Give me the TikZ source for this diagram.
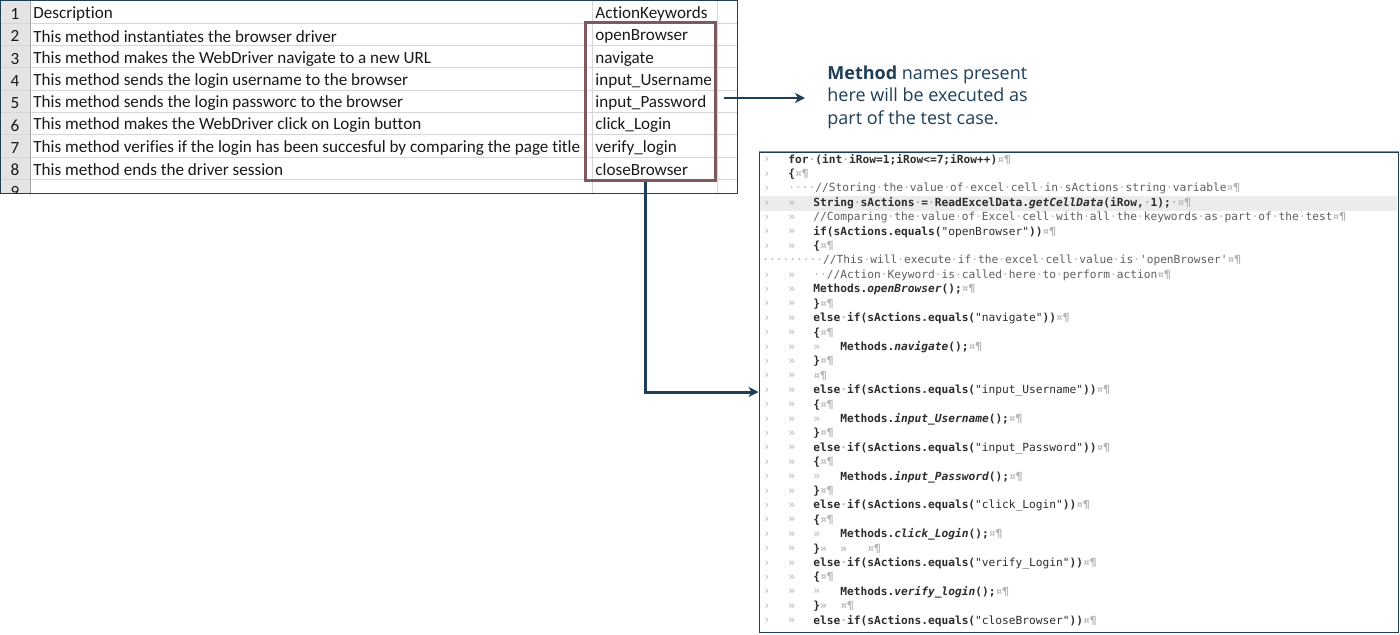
\documentclass[tikz,border=0pt]{standalone}
\usepackage{fontspec}
\setmainfont{Carlito}[Ligatures=NoCommon]
\setmonofont{DejaVu Sans Mono}
\newfontfamily\notefont{Open Sans}
\usepackage{xcolor}
\definecolor{navy}{RGB}{31,62,88}
\definecolor{keyred}{RGB}{127,88,96}
\definecolor{gridgray}{RGB}{214,214,214}
\definecolor{headgray}{RGB}{228,228,228}
\definecolor{markgray}{RGB}{180,180,180}
\definecolor{codeink}{RGB}{45,45,45}
\definecolor{cmtink}{RGB}{95,95,95}
\definecolor{lineband}{RGB}{236,236,236}
\usepackage{tikz}
\usetikzlibrary{arrows.meta,positioning}

% visible blanks, tabs and line ends of the editor
\catcode`\·=\active \def·{{\color{markgray}\char"B7}}
\catcode`\»=\active \def»{{\color{markgray}\char"BB}}
\newcommand\eol{{\color{markgray}\char"A4\char"B6}}
\newcommand\cmt[1]{{\mdseries\color{cmtink}#1}}
\newcommand\str[1]{{\mdseries #1}}
\newcommand\mth[1]{\textit{#1}}
\newcommand\codeln[4]{\node[code] (#1) at (#2,{160+(#3-1)*14.4}) {#4};}

\tikzset{
  cell/.style={anchor=west, inner sep=0pt, text=black!90, font=\fontsize{8.55}{10}\selectfont},
  rownum/.style={inner sep=0pt, text=black!90, font=\fontsize{8.55}{10}\selectfont},
  gridline/.style={gridgray, line width=0.5pt},
  keybox/.style={draw=keyred, line width=1.5pt, minimum width=65pt, minimum height=79pt},
  note/.style={anchor=west, align=left, inner sep=0pt, text=navy,
    font=\notefont\fontsize{9}{11.25}\selectfont},
  codepanel/.style={draw=navy, line width=0.5pt, fill=white, minimum width=319.5pt, minimum height=240pt},
  code/.style={anchor=west, inner sep=0pt, text=codeink, font=\ttfamily\bfseries\fontsize{5.6}{6}\selectfont},
  editmark/.style={anchor=west, inner sep=0pt, text=markgray, font=\ttfamily\fontsize{5.6}{6}\selectfont},
  arrowline/.style={navy, line width=1pt, -{Stealth[length=5pt, width=5pt, inset=1.5pt]}}
}

\begin{document}
\begin{tikzpicture}[x=0.5pt, y=-0.5pt]
  \useasboundingbox (0,0) rectangle (1400,634);

  % Spreadsheet
  \fill[headgray] (0,0) rectangle (30,193);
  \foreach \k in {1,...,8}
    \draw[gridline] (0,{1+\k*22.3}) -- (737,{1+\k*22.3});
  \draw[gridline] (592,0) -- (592,193);
  \draw[gridline] (717,0) -- (717,193);
  \draw[black!35, line width=0.5pt] (30,0) -- (30,193);
  \draw[navy, line width=0.5pt] (0.5,0.5) rectangle (737,193);

  \foreach \i/\d in {1/Description,
      2/This method instantiates the browser driver,
      3/This method makes the WebDriver navigate to a new URL,
      4/This method sends the login username to the browser,
      5/This method sends the login passworc to the browser,
      6/This method makes the WebDriver click on Login button,
      7/This method verifies if the login has been succesful by comparing the page title,
      8/This method ends the driver session} {
    \node[rownum] (n\i) at (15,{14+(\i-1)*22.3}) {\i};
    \node[cell] (d\i) at (33,{14+(\i-1)*22.3}) {\d};
  }
  \begin{scope}
    \clip (0,0) rectangle (737,193);
    \node[rownum] (n9) at (15,{14+8*22.3}) {9};
  \end{scope}

  \foreach \i/\k in {1/ActionKeywords, 2/openBrowser, 3/navigate, 4/input\_Username,
      5/input\_Password, 6/click\_Login, 7/verify\_login, 8/closeBrowser}
    \node[cell] (k\i) at (595,{14+(\i-1)*22.3}) {\k};

  \node[keybox] (kbox) at (650,101) {};

  % Note
  \node[note] (note) at (827,97) {\textbf{Method} names present\\here will be executed as\\part of the test case.};

  % Code panel
  \node[codepanel] (codebox) at (1078.5,392) {};
  \draw[keyred!70, line width=0.6pt] (codebox.north west) -- (codebox.north east);
  \fill[lineband] (760,196) rectangle (1397,210.5);

  \foreach \k in {1,...,7,9,10,...,33}
    \node[editmark] (lm\k) at (763,{160+(\k-1)*14.4}) {\char"203A};
  \foreach \k in {4,5,6,7,9,10,...,33}
    \node[editmark] (tm\k) at (788,{160+(\k-1)*14.4}) {»};
  \foreach \k in {14,19,23,27,31}
    \node[editmark] (im\k) at (813,{160+(\k-1)*14.4}) {»};

  \codeln{c1}{788}{1}{for·(int·iRow=1;iRow<=7;iRow++)\eol}
  \codeln{c2}{788}{2}{\{\eol}
  \codeln{c3}{788}{3}{\cmt{····//Storing·the·value·of·excel·cell·in·sActions·string·variable}\eol}
  \codeln{c4}{813}{4}{String·sActions·=·ReadExcelData.\mth{getCellData}(iRow,·1);·\eol}
  \codeln{c5}{813}{5}{\cmt{//Comparing·the·value·of·Excel·cell·with·all·the·keywords·as·part·of·the·test}\eol}
  \codeln{c6}{813}{6}{if(sActions.equals(\str{"openBrowser"}))\eol}
  \codeln{c7}{813}{7}{\{\eol}
  \codeln{c8}{762}{8}{\cmt{·········//This·will·execute·if·the·excel·cell·value·is·'openBrowser'}\eol}
  \codeln{c9}{813}{9}{\cmt{··//Action·Keyword·is·called·here·to·perform·action}\eol}
  \codeln{c10}{813}{10}{Methods.\mth{openBrowser}();\eol}
  \codeln{c11}{813}{11}{\}\eol}
  \codeln{c12}{813}{12}{else·if(sActions.equals(\str{"navigate"}))\eol}
  \codeln{c13}{813}{13}{\{\eol}
  \codeln{c14}{840}{14}{Methods.\mth{navigate}();\eol}
  \codeln{c15}{813}{15}{\}\eol}
  \codeln{c16}{813}{16}{\eol}
  \codeln{c17}{813}{17}{else·if(sActions.equals(\str{"input\_Username"}))\eol}
  \codeln{c18}{813}{18}{\{\eol}
  \codeln{c19}{840}{19}{Methods.\mth{input\_Username}();\eol}
  \codeln{c20}{813}{20}{\}\eol}
  \codeln{c21}{813}{21}{else·if(sActions.equals(\str{"input\_Password"}))\eol}
  \codeln{c22}{813}{22}{\{\eol}
  \codeln{c23}{840}{23}{Methods.\mth{input\_Password}();\eol}
  \codeln{c24}{813}{24}{\}\eol}
  \codeln{c25}{813}{25}{else·if(sActions.equals(\str{"click\_Login"}))\eol}
  \codeln{c26}{813}{26}{\{\eol}
  \codeln{c27}{840}{27}{Methods.\mth{click\_Login}();\eol}
  \codeln{c28}{813}{28}{\}»~~»~~~\eol}
  \codeln{c29}{813}{29}{else·if(sActions.equals(\str{"verify\_Login"}))\eol}
  \codeln{c30}{813}{30}{\{\eol}
  \codeln{c31}{840}{31}{Methods.\mth{verify\_login}();\eol}
  \codeln{c32}{813}{32}{\}»~~\eol}
  \codeln{c33}{813}{33}{else·if(sActions.equals(\str{"closeBrowser"}))\eol}

  % Arrows
  \draw[arrowline, shorten <=3.5pt, shorten >=11pt] ([yshift=1.5pt]kbox.east) -- ([yshift=1.5pt]kbox.east -| note.west);
  \draw[arrowline, line width=1.5pt] ([xshift=-2.5pt]kbox.south) |- (codebox.west);
\end{tikzpicture}
\end{document}
